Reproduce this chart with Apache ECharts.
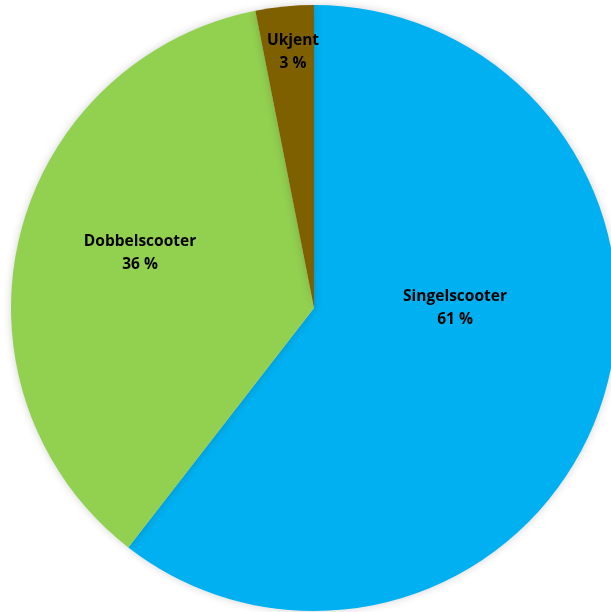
<!DOCTYPE html>
<html>
<head>
<meta charset="utf-8">
<script src="https://cdn.jsdelivr.net/npm/echarts@6/dist/echarts.min.js"></script>
<style>html,body{margin:0;padding:0;background:#fff;}#c{width:611px;height:612px;}</style>
</head>
<body>
<div id="c"></div>
<script>
const categories = ['Singelscooter', 'Dobbelscooter', 'Ukjent'];
const values = [60.5, 36.4, 3.1];
const colors = ['#00B0F0', '#92D050', '#7F6000'];
const labelPos = [[455, 308], [140, 253], [293, 52]];

const chart = echarts.init(document.getElementById('c'));
chart.setOption({
  animation: false,
  series: [{
    type: 'pie',
    center: [314, 308],
    radius: 303,
    startAngle: 90,
    clockwise: true,
    data: categories.map((n, i) => ({ name: n, value: values[i], itemStyle: { color: colors[i] } })),
    itemStyle: { shadowBlur: 8, shadowColor: 'rgba(0,0,0,0.18)' },
    label: {
      show: true,
      position: 'inside',
      formatter: p => p.name + '\n' + Math.round(p.percent) + ' %',
      fontFamily: 'Open Sans',
      fontWeight: 'bold',
      fontSize: 15.5,
      lineHeight: 23,
      color: '#000',
      align: 'center',
      verticalAlign: 'middle'
    },
    labelLine: { show: false },
    labelLayout: p => ({ x: labelPos[p.dataIndex][0], y: labelPos[p.dataIndex][1], align: 'center', verticalAlign: 'middle' }),
    emphasis: { disabled: true }
  }]
});
</script>
</body>
</html>
